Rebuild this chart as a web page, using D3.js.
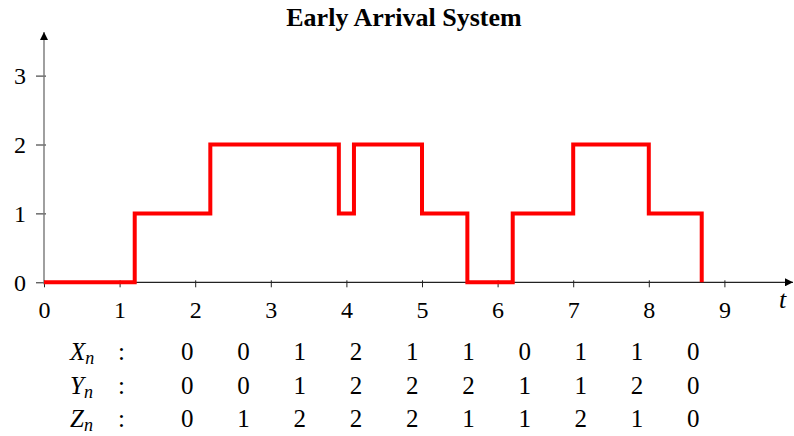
<!DOCTYPE html>
<html>
<head>
<meta charset="utf-8">
<script src="https://cdn.jsdelivr.net/npm/d3@7"></script>
<style>
  body { margin: 0; background: #fff; }
</style>
</head>
<body>
<script>
// step path: time of each jump and the level reached there
const jumpTimes = [0, 1.2, 2.2, 3.9, 4.1, 5.0, 5.6, 6.2, 7.0, 8.0, 8.7];
const jumpLevels = [0, 1, 2, 1, 2, 1, 0, 1, 2, 1, 0];

const xTicks = [0, 1, 2, 3, 4, 5, 6, 7, 8, 9];
const yTicks = [0, 1, 2, 3];

// table under the chart
const rowNames = ["X", "Y", "Z"];
const Xn = [0, 0, 1, 2, 1, 1, 0, 1, 1, 0];
const Yn = [0, 0, 1, 2, 2, 2, 1, 1, 2, 0];
const Zn = [0, 1, 2, 2, 2, 1, 1, 2, 1, 0];
const rows = [Xn, Yn, Zn];

const width = 794;
const height = 436;
const serif = "Liberation Serif";

const svg = d3
  .select("body")
  .append("svg")
  .attr("width", width)
  .attr("height", height)
  .attr("font-family", serif);

const x = d3.scaleLinear().domain([0, 9]).range([44, 724.4]);
const y = d3.scaleLinear().domain([0, 3]).range([282.3, 75.6]);

svg
  .append("text")
  .attr("x", 404)
  .attr("y", 26)
  .attr("text-anchor", "middle")
  .attr("font-weight", "bold")
  .attr("font-size", 26)
  .text("Early Arrival System");

// arrow heads
svg
  .append("defs")
  .append("marker")
  .attr("id", "arrow")
  .attr("viewBox", "0 0 10 10")
  .attr("refX", 10)
  .attr("refY", 5)
  .attr("markerWidth", 9)
  .attr("markerHeight", 8)
  .attr("markerUnits", "userSpaceOnUse")
  .attr("orient", "auto")
  .append("path")
  .attr("d", "M0,0L10,5L0,10z")
  .attr("fill", "#000");

// x axis
const xAxis = d3.axisBottom(x).tickValues(xTicks).tickFormat(d3.format("d"));
const gx = svg
  .append("g")
  .attr("transform", `translate(0,${y(0)})`)
  .call(xAxis)
  .attr("font-family", serif)
  .attr("font-size", 24);
gx.select(".domain").remove();
gx.selectAll(".tick line").attr("y1", -2).attr("y2", 5).attr("stroke", "#222");
gx.selectAll(".tick text").attr("y", 36).attr("dy", null).attr("fill", "#000");
svg
  .append("line")
  .attr("x1", x(0))
  .attr("x2", 793)
  .attr("y1", y(0))
  .attr("y2", y(0))
  .attr("stroke", "#222")
  .attr("stroke-width", 1.2)
  .attr("marker-end", "url(#arrow)");
svg
  .append("text")
  .attr("x", 779)
  .attr("y", 308)
  .attr("font-style", "italic")
  .attr("font-size", 26)
  .text("t");

// y axis
const yAxis = d3.axisLeft(y).tickValues(yTicks).tickFormat(d3.format("d"));
const gy = svg
  .append("g")
  .attr("transform", `translate(${x(0)},0)`)
  .call(yAxis)
  .attr("font-family", serif)
  .attr("font-size", 24);
gy.select(".domain").remove();
gy.selectAll(".tick line").attr("x1", -8).attr("x2", 2).attr("stroke", "#222");
gy.selectAll(".tick text").attr("x", -18).attr("dy", "0.34em").attr("fill", "#000");
svg
  .append("line")
  .attr("x1", x(0))
  .attr("x2", x(0))
  .attr("y1", y(0) + 2)
  .attr("y2", 32)
  .attr("stroke", "#777")
  .attr("stroke-width", 1.4)
  .attr("marker-end", "url(#arrow)");

// the step line
const line = d3
  .line()
  .x((d, i) => x(jumpTimes[i]))
  .y((d) => y(d))
  .curve(d3.curveStepAfter);
svg
  .append("path")
  .datum(jumpLevels)
  .attr("d", line)
  .attr("fill", "none")
  .attr("stroke", "#ff0000")
  .attr("stroke-width", 4)
  .attr("stroke-linejoin", "miter");

// table
const col = d3.scalePoint().domain(d3.range(10)).range([187.3, 693.3]);
const rowY = [360, 393.5, 427];
rows.forEach((vals, r) => {
  const lab = svg
    .append("text")
    .attr("x", 70)
    .attr("y", rowY[r])
    .attr("font-size", 25);
  lab.append("tspan").attr("font-style", "italic").text(rowNames[r]);
  lab
    .append("tspan")
    .attr("font-style", "italic")
    .attr("font-size", 18)
    .attr("dy", 4)
    .text("n");
  lab.append("tspan").attr("x", 118).attr("dy", -4).text(":");

  svg
    .append("g")
    .selectAll("text")
    .data(vals)
    .enter()
    .append("text")
    .attr("x", (_, i) => col(i))
    .attr("y", rowY[r])
    .attr("text-anchor", "middle")
    .attr("font-size", 25)
    .text((d) => d);
});
</script>
</body>
</html>
